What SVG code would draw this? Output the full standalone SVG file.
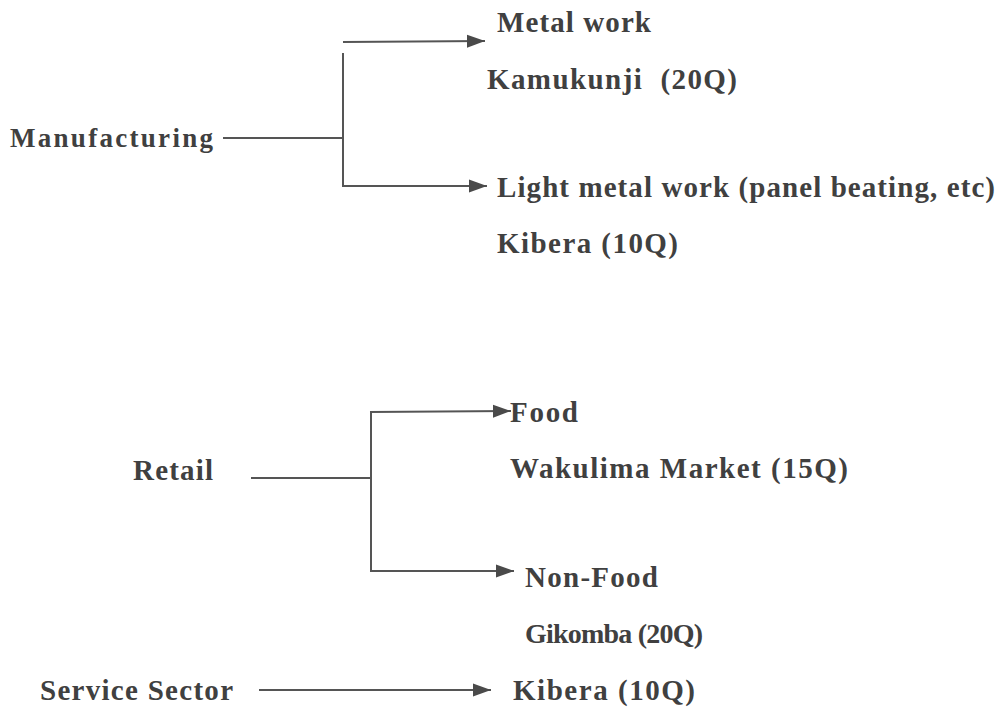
<svg xmlns="http://www.w3.org/2000/svg" width="1005" height="708" viewBox="0 0 1005 708">
<style>
text{font-family:"Liberation Serif","Times New Roman",serif;font-weight:bold;font-size:29px;fill:#404040;}
.c{stroke:#555;stroke-width:2;fill:none;}
</style>
<defs>
<marker id="ah" markerUnits="userSpaceOnUse" markerWidth="20" markerHeight="16" refX="18" refY="8" orient="auto">
<path d="M0,1.5 L18,8 L0,14.5 Z" fill="#4a4a4a"/>
</marker>
</defs>
<rect width="1005" height="708" fill="#fff"/>
<g id="connectors">
<line class="c" x1="223" y1="138" x2="343" y2="138"/>
<line class="c" x1="343" y1="53" x2="343" y2="187"/>
<line class="c" x1="343" y1="42" x2="485" y2="41" marker-end="url(#ah)"/>
<line class="c" x1="343" y1="186" x2="487" y2="186" marker-end="url(#ah)"/>
<line class="c" x1="251" y1="478" x2="371" y2="478"/>
<line class="c" x1="371" y1="412" x2="371" y2="572"/>
<line class="c" x1="370" y1="412" x2="511" y2="411" marker-end="url(#ah)"/>
<line class="c" x1="370" y1="571" x2="514" y2="571" marker-end="url(#ah)"/>
<line class="c" x1="259" y1="690" x2="491" y2="690" marker-end="url(#ah)"/>
</g>
<g id="manufacturing"><text x="10" y="147" textLength="203" lengthAdjust="spacing" style="font-size:27px">Manufacturing</text></g>
<g id="metal-work"><text x="497" y="32" textLength="154" lengthAdjust="spacing">Metal work</text></g>
<g id="kamukunji"><text x="487" y="89" textLength="250" lengthAdjust="spacing" xml:space="preserve">Kamukunji  (20Q)</text></g>
<g id="light-metal-work"><text x="497" y="197" textLength="498" lengthAdjust="spacing">Light metal work (panel beating, etc)</text></g>
<g id="kibera-1"><text x="497" y="253" textLength="181" lengthAdjust="spacing">Kibera (10Q)</text></g>
<g id="retail"><text x="133" y="480" textLength="80" lengthAdjust="spacing">Retail</text></g>
<g id="food"><text x="510" y="422" textLength="68" lengthAdjust="spacing">Food</text></g>
<g id="wakulima"><text x="510" y="478" textLength="338" lengthAdjust="spacing">Wakulima Market (15Q)</text></g>
<g id="non-food"><text x="525" y="587" textLength="133" lengthAdjust="spacing">Non-Food</text></g>
<g id="gikomba"><text x="525" y="643" textLength="178" lengthAdjust="spacing" style="font-size:28px">Gikomba (20Q)</text></g>
<g id="service-sector"><text x="40" y="700" textLength="193" lengthAdjust="spacing">Service Sector</text></g>
<g id="kibera-2"><text x="513" y="700" textLength="182" lengthAdjust="spacing">Kibera (10Q)</text></g>
</svg>
